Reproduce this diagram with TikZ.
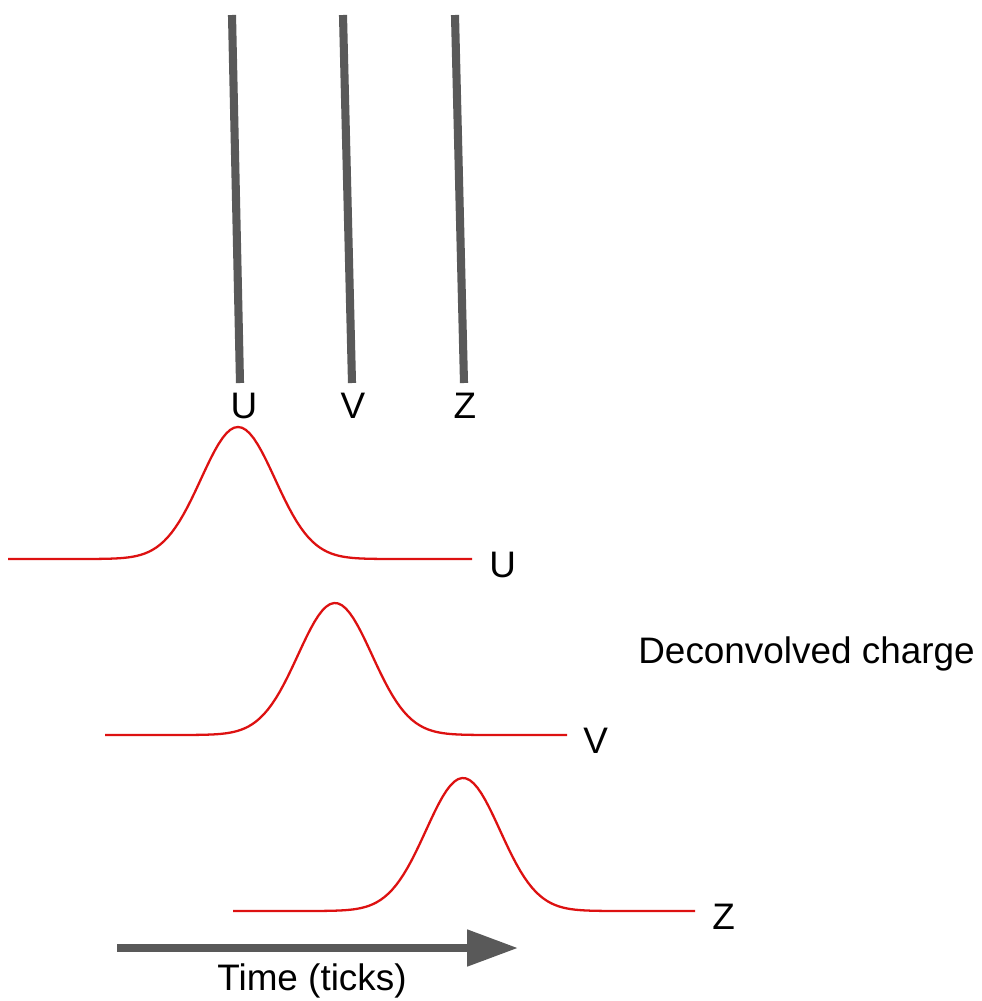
\documentclass[tikz,border=0pt]{standalone}
\usepackage{fontspec}
\setmainfont{Liberation Sans}
\usepackage{tikz}
\usetikzlibrary{arrows.meta, positioning}
\definecolor{wire}{HTML}{595959}
\definecolor{pulse}{HTML}{DD1111}
\definecolor{ink}{HTML}{000000}
\tikzset{
  font=\fontsize{21}{24}\selectfont,
  %
  wireline/.style={draw=wire, line width=4.6pt},
  pulseline/.style={draw=pulse, line width=1.3pt, line join=round},
  timearrow/.style={draw=wire, line width=4.4pt,
                    -{Triangle[length=29pt, width=20pt]}},
  %
  lbl/.style={text=ink, inner sep=0pt},
}
\begin{document}
\begin{tikzpicture}[x=0.02cm, y=-0.02cm]

  \useasboundingbox (0,0) rectangle (982,1001);

  % --- wires -------------------------------------------------------------
  \coordinate (utop) at (232,15);  \coordinate (ubot) at (240,383);
  \coordinate (vtop) at (343,15);  \coordinate (vbot) at (352,383);
  \coordinate (ztop) at (455,15);  \coordinate (zbot) at (464,383);
  \draw[wireline] (utop) -- (ubot);
  \draw[wireline] (vtop) -- (vbot);
  \draw[wireline] (ztop) -- (zbot);

  \node[lbl, anchor=base] (uw) at (244,418) {U};
  \node[lbl, anchor=base] (vw) at (353,418) {V};
  \node[lbl, anchor=base] (zw) at (465,418) {Z};

  % --- deconvolved pulses ------------------------------------------------
  \newcommand{\chargepulse}[5]{% left, peak, right, baseline, height
    \draw[pulseline] plot[domain=#1:#3, samples=120]
      (\x, {#4 - #5*exp(-((\x-#2)/37)^2/2)});
  }
  \chargepulse{8}{238}{472}{559}{132}
  \chargepulse{105}{335}{567}{735}{132}
  \chargepulse{233}{463}{695}{911}{133}

  \node[lbl, anchor=base west] (up) at (489,577) {U};
  \node[lbl, anchor=base west] (vp) at (583,753) {V};
  \node[lbl, anchor=base west] (zp) at (712,929) {Z};

  \node[lbl, anchor=base west] (dc) at (638,663) {Deconvolved charge};

  % --- time axis ---------------------------------------------------------
  \coordinate (t0) at (117,948);
  \coordinate (t1) at (518,948);
  \draw[timearrow] (t0) -- (t1);
  \node[lbl, anchor=base] (tl) at (312,990) {Time (ticks)};

\end{tikzpicture}
\end{document}
